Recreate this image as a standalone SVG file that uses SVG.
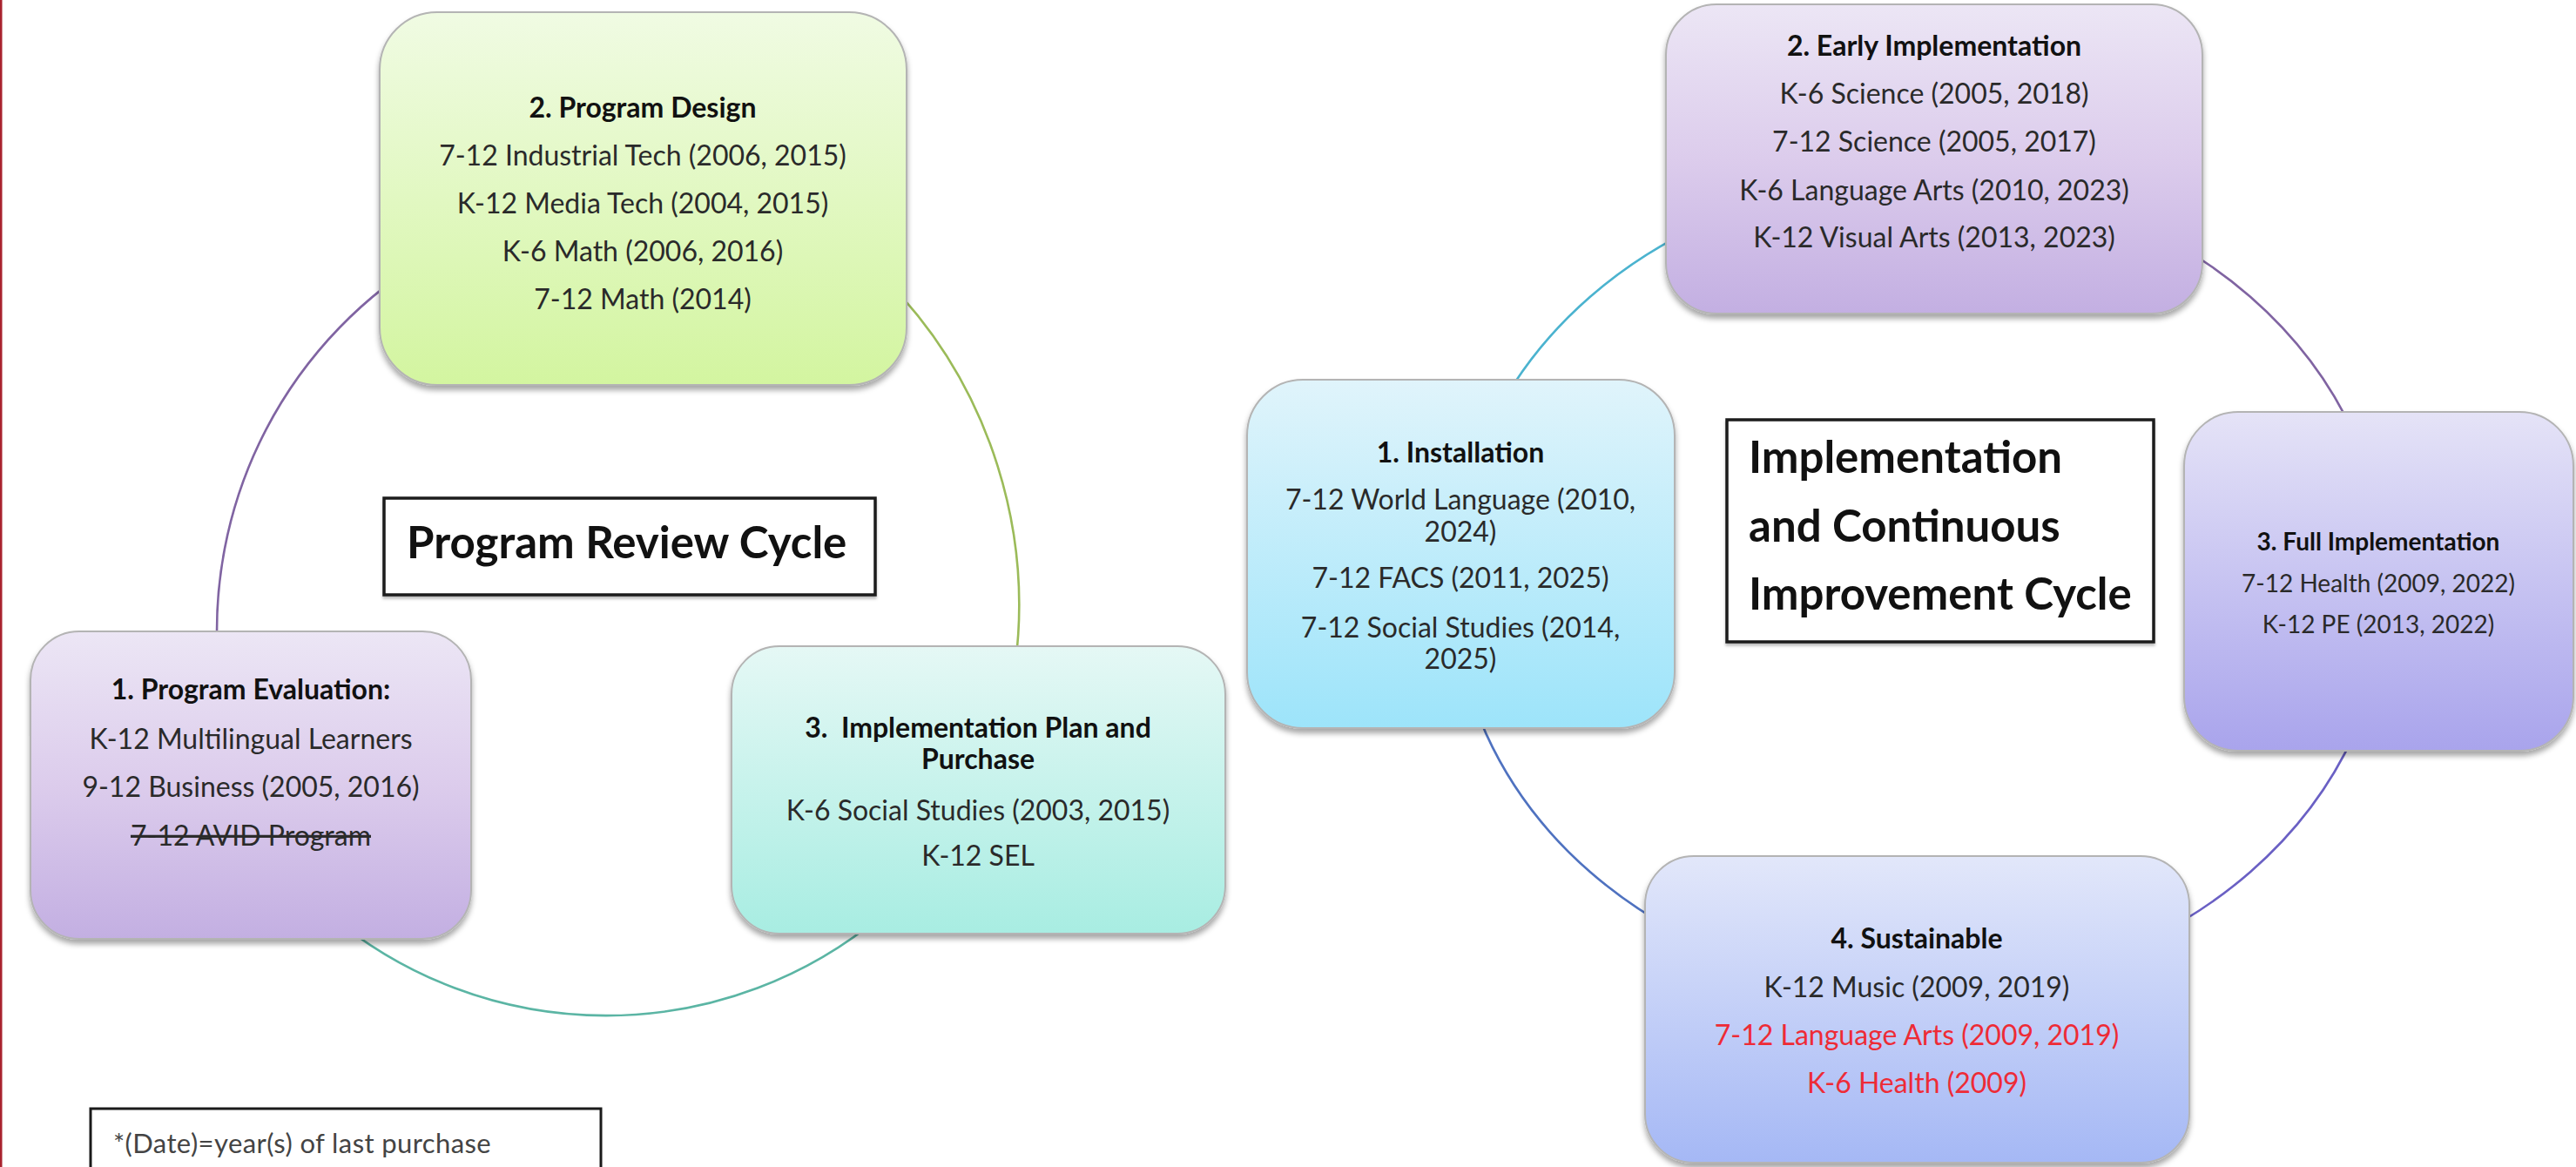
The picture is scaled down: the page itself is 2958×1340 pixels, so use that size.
<svg xmlns="http://www.w3.org/2000/svg" width="2958" height="1340" viewBox="0 0 2958 1340">
<style>
.t{font-family:Lato,"Liberation Sans",sans-serif;font-size:32px;fill:#2a2a2a;text-anchor:middle}
.h{font-weight:bold;fill:#111}
.s{font-size:28px}
.red{fill:#ee2b36}
.strike{text-decoration:line-through}
.title{font-family:Lato,"Liberation Sans",sans-serif;font-weight:bold;font-size:51px;fill:#111}
.foot{font-family:Lato,"Liberation Sans",sans-serif;font-size:31px;letter-spacing:0.4px;fill:#444}
.node{stroke:#b4b4b4;stroke-width:2;filter:url(#sh)}
.arc{fill:none;stroke-width:2.6}
.tbox{fill:#fff;stroke:#1a1a1a;stroke-width:3.5}
</style>
<defs>
<filter id="sh" x="-10%" y="-10%" width="120%" height="130%">
<feDropShadow dx="0" dy="5" stdDeviation="3" flood-color="#000" flood-opacity="0.35"/>
</filter>
<filter id="sh2" x="-5%" y="-5%" width="110%" height="120%">
<feDropShadow dx="0" dy="3" stdDeviation="1.5" flood-color="#000" flood-opacity="0.25"/>
</filter>
<linearGradient id="gGreen" x1="0" y1="0" x2="0" y2="1"><stop offset="0" stop-color="#f0fbe3"/><stop offset="1" stop-color="#d3f5a0"/></linearGradient>
<linearGradient id="gPurple" x1="0" y1="0" x2="0" y2="1"><stop offset="0" stop-color="#ece6f5"/><stop offset="0.5" stop-color="#dcccec"/><stop offset="1" stop-color="#c3afe2"/></linearGradient>
<linearGradient id="gTeal" x1="0" y1="0" x2="0" y2="1"><stop offset="0" stop-color="#e5f8f5"/><stop offset="1" stop-color="#a8ede2"/></linearGradient>
<linearGradient id="gCyan" x1="0" y1="0" x2="0" y2="1"><stop offset="0" stop-color="#e0f4fb"/><stop offset="1" stop-color="#9de4fa"/></linearGradient>
<linearGradient id="gLav" x1="0" y1="0" x2="0" y2="1"><stop offset="0" stop-color="#e5e3f7"/><stop offset="1" stop-color="#a9a4ec"/></linearGradient>
<linearGradient id="gPeri" x1="0" y1="0" x2="0" y2="1"><stop offset="0" stop-color="#e2e7fa"/><stop offset="1" stop-color="#a5b8f5"/></linearGradient>
</defs>
<rect x="0" y="0" width="2958" height="1340" fill="#ffffff"/>
<line x1="1" y1="0" x2="1" y2="1340" stroke="#a8222e" stroke-width="3"/>

<g id="connectors">
<path class="arc" stroke="#8064a2" d="M499,291 A500,500 0 0 0 251,768"/>
<path class="arc" stroke="#9bbb59" d="M1013.6,317.4 A534,534 0 0 1 1162,788"/>
<path class="arc" stroke="#5bb5a4" d="M379,1050.7 A493,493 0 0 0 1013,1050.7"/>
<path class="arc" stroke="#4bb3cf" d="M1669,671 A536,467 0 0 1 2205,204"/>
<path class="arc" stroke="#8064a2" d="M2205,204 A536,467 0 0 1 2741,671"/>
<path class="arc" stroke="#6a60c4" d="M2741,671 A536,467 0 0 1 2205,1138"/>
<path class="arc" stroke="#4f72c0" d="M2205,1138 A536,467 0 0 1 1669,671"/>
</g>

<g id="node-program-design">
<rect class="node" x="436" y="14" width="605" height="428" rx="66" fill="url(#gGreen)"/>
<text class="t h" x="738" y="135">2. Program Design</text>
<text class="t" x="738" y="190">7-12 Industrial Tech (2006, 2015)</text>
<text class="t" x="738" y="245">K-12 Media Tech (2004, 2015)</text>
<text class="t" x="738" y="300">K-6 Math (2006, 2016)</text>
<text class="t" x="738" y="355">7-12 Math (2014)</text>
</g>

<g id="node-program-evaluation">
<rect class="node" x="35" y="725" width="506" height="353" rx="56" fill="url(#gPurple)"/>
<text class="t h" x="288" y="803">1. Program Evaluation:</text>
<text class="t" x="288" y="860">K-12 Multilingual Learners</text>
<text class="t" x="288" y="915">9-12 Business (2005, 2016)</text>
<text class="t strike" x="288" y="971">7-12 AVID Program</text>
</g>

<g id="node-implementation-plan">
<rect class="node" x="840" y="742" width="567" height="330" rx="55" fill="url(#gTeal)"/>
<text class="t h" x="1123" y="847" xml:space="preserve">3.  Implementation Plan and</text>
<text class="t h" x="1123" y="883">Purchase</text>
<text class="t" x="1123" y="942">K-6 Social Studies (2003, 2015)</text>
<text class="t" x="1123" y="994">K-12 SEL</text>
</g>

<g id="title-program-review">
<rect class="tbox" x="441" y="572" width="564" height="111" filter="url(#sh2)"/>
<text class="title" x="467" y="641">Program Review Cycle</text>
</g>

<g id="node-early-implementation">
<rect class="node" x="1913" y="5" width="616" height="355" rx="58" fill="url(#gPurple)"/>
<text class="t h" x="2221" y="64">2. Early Implementation</text>
<text class="t" x="2221" y="119">K-6 Science (2005, 2018)</text>
<text class="t" x="2221" y="174">7-12 Science (2005, 2017)</text>
<text class="t" x="2221" y="230">K-6 Language Arts (2010, 2023)</text>
<text class="t" x="2221" y="284">K-12 Visual Arts (2013, 2023)</text>
</g>

<g id="node-installation">
<rect class="node" x="1432" y="436" width="491" height="400" rx="64" fill="url(#gCyan)"/>
<text class="t h" x="1677" y="531">1. Installation</text>
<text class="t" x="1677" y="585">7-12 World Language (2010,</text>
<text class="t" x="1677" y="622">2024)</text>
<text class="t" x="1677" y="675">7-12 FACS (2011, 2025)</text>
<text class="t" x="1677" y="732">7-12 Social Studies (2014,</text>
<text class="t" x="1677" y="768">2025)</text>
</g>

<g id="node-full-implementation">
<rect class="node" x="2508" y="473" width="447" height="389" rx="62" fill="url(#gLav)"/>
<text class="t h s" x="2731" y="632">3. Full Implementation</text>
<text class="t s" x="2731" y="680">7-12 Health (2009, 2022)</text>
<text class="t s" x="2731" y="727">K-12 PE (2013, 2022)</text>
</g>

<g id="node-sustainable">
<rect class="node" x="1889" y="983" width="625" height="352" rx="56" fill="url(#gPeri)"/>
<text class="t h" x="2201" y="1089">4. Sustainable</text>
<text class="t" x="2201" y="1145">K-12 Music (2009, 2019)</text>
<text class="t red" x="2201" y="1200">7-12 Language Arts (2009, 2019)</text>
<text class="t red" x="2201" y="1255">K-6 Health (2009)</text>
</g>

<g id="title-implementation-cycle">
<rect class="tbox" x="1983" y="482" width="490" height="255" filter="url(#sh2)"/>
<text class="title" x="2008" y="543">Implementation</text>
<text class="title" x="2008" y="622">and Continuous</text>
<text class="title" x="2008" y="700">Improvement Cycle</text>
</g>

<g id="footnote">
<rect x="104" y="1273" width="586" height="90" fill="#fff" stroke="#1a1a1a" stroke-width="3"/>
<text class="foot" x="130" y="1324">*(Date)=year(s) of last purchase</text>
</g>
</svg>
